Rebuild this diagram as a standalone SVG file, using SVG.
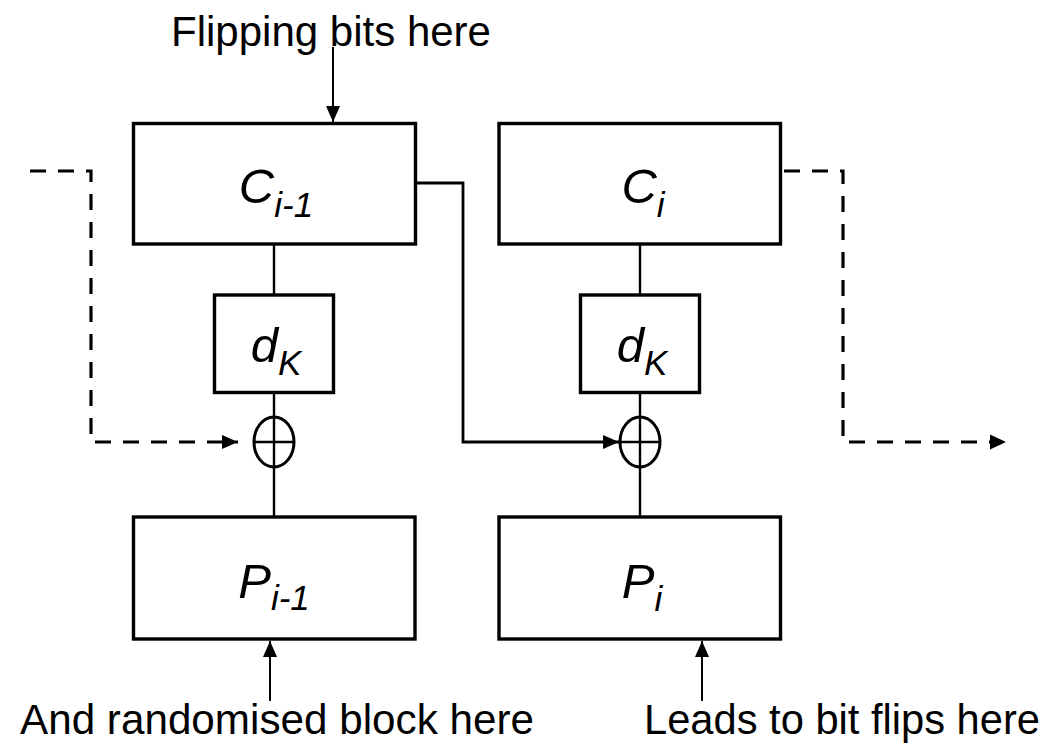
<svg xmlns="http://www.w3.org/2000/svg" width="1051" height="746" viewBox="0 0 1051 746">
<style>
.box{fill:#fff;stroke:#000;stroke-width:3.4}
.ln{fill:none;stroke:#000;stroke-width:2.4}
.thin{fill:none;stroke:#000;stroke-width:2}
.conn{fill:none;stroke:#000;stroke-width:2.8}
.dash{fill:none;stroke:#000;stroke-width:3.2;stroke-dasharray:16 12}
.xor{fill:#fff;stroke:#000;stroke-width:3}
.lbl{font-family:"Liberation Sans",Arial,sans-serif;font-style:italic;font-size:49px;fill:#000}
.sub{font-size:35px}
.cap{font-family:"Liberation Sans",Arial,sans-serif;font-size:43px;fill:#000}
</style>
<defs>
<marker id="ah" markerUnits="userSpaceOnUse" markerWidth="16" markerHeight="16" viewBox="0 0 16 16" refX="16" refY="8" orient="auto">
<path d="M0,1 L16,8 L0,15 Z" fill="#000"/>
</marker>
</defs>
<rect width="1051" height="746" fill="#fff"/>
<g id="connectors">
<line class="ln" x1="274" y1="244" x2="274" y2="295"/>
<line class="ln" x1="274" y1="392" x2="274" y2="517"/>
<line class="ln" x1="640" y1="244" x2="640" y2="295"/>
<line class="ln" x1="640" y1="392" x2="640" y2="517"/>
<path class="dash" d="M30,171 H91 V442 H238" marker-end="url(#ah)"/>
<path class="dash" d="M784,171 H843 V442 H992"/>
<path d="M990,434.5 L1006,442 L990,449.5 Z" fill="#000"/>
<path class="conn" d="M417,183 H463 V442 H619" marker-end="url(#ah)"/>
<line class="thin" x1="333" y1="47" x2="333" y2="122" marker-end="url(#ah)"/>
<line class="thin" x1="270" y1="701" x2="270" y2="641" marker-end="url(#ah)"/>
<line class="thin" x1="702" y1="701" x2="702" y2="641" marker-end="url(#ah)"/>
</g>
<g id="c-prev">
<rect class="box" x="133.5" y="123.5" width="282" height="120.5"/>
<text class="lbl" x="276" y="203" text-anchor="middle">C<tspan class="sub" dy="14">i-1</tspan></text>
</g>
<g id="c-cur">
<rect class="box" x="499" y="123.5" width="281.5" height="120.5"/>
<text class="lbl" x="643" y="203" text-anchor="middle">C<tspan class="sub" dy="14">i</tspan></text>
</g>
<g id="dk-prev">
<rect class="box" x="214.5" y="295" width="119" height="97.5"/>
<text class="lbl" x="276" y="362" text-anchor="middle">d<tspan class="sub" dy="13">K</tspan></text>
</g>
<g id="dk-cur">
<rect class="box" x="580.5" y="295" width="119" height="97.5"/>
<text class="lbl" x="642" y="362" text-anchor="middle">d<tspan class="sub" dy="13">K</tspan></text>
</g>
<g id="xor-prev">
<ellipse class="xor" cx="274" cy="442" rx="20" ry="25"/>
<line class="ln" x1="274" y1="417" x2="274" y2="467"/>
<line class="ln" x1="254" y1="442" x2="294" y2="442"/>
</g>
<g id="xor-cur">
<ellipse class="xor" cx="640" cy="442" rx="20" ry="25"/>
<line class="ln" x1="640" y1="417" x2="640" y2="467"/>
<line class="ln" x1="620" y1="442" x2="660" y2="442"/>
</g>
<g id="p-prev">
<rect class="box" x="133.5" y="517" width="281.5" height="122"/>
<text class="lbl" x="274" y="598" text-anchor="middle">P<tspan class="sub" dy="12">i-1</tspan></text>
</g>
<g id="p-cur">
<rect class="box" x="499" y="517" width="281.5" height="122"/>
<text class="lbl" x="642" y="598" text-anchor="middle">P<tspan class="sub" dy="13">i</tspan></text>
</g>
<g id="labels">
<text class="cap" x="171" y="46" textLength="320" lengthAdjust="spacingAndGlyphs">Flipping bits here</text>
<text class="cap" x="20" y="734" textLength="514" lengthAdjust="spacingAndGlyphs">And randomised block here</text>
<text class="cap" x="644" y="734" textLength="396" lengthAdjust="spacingAndGlyphs">Leads to bit flips here</text>
</g>
</svg>
